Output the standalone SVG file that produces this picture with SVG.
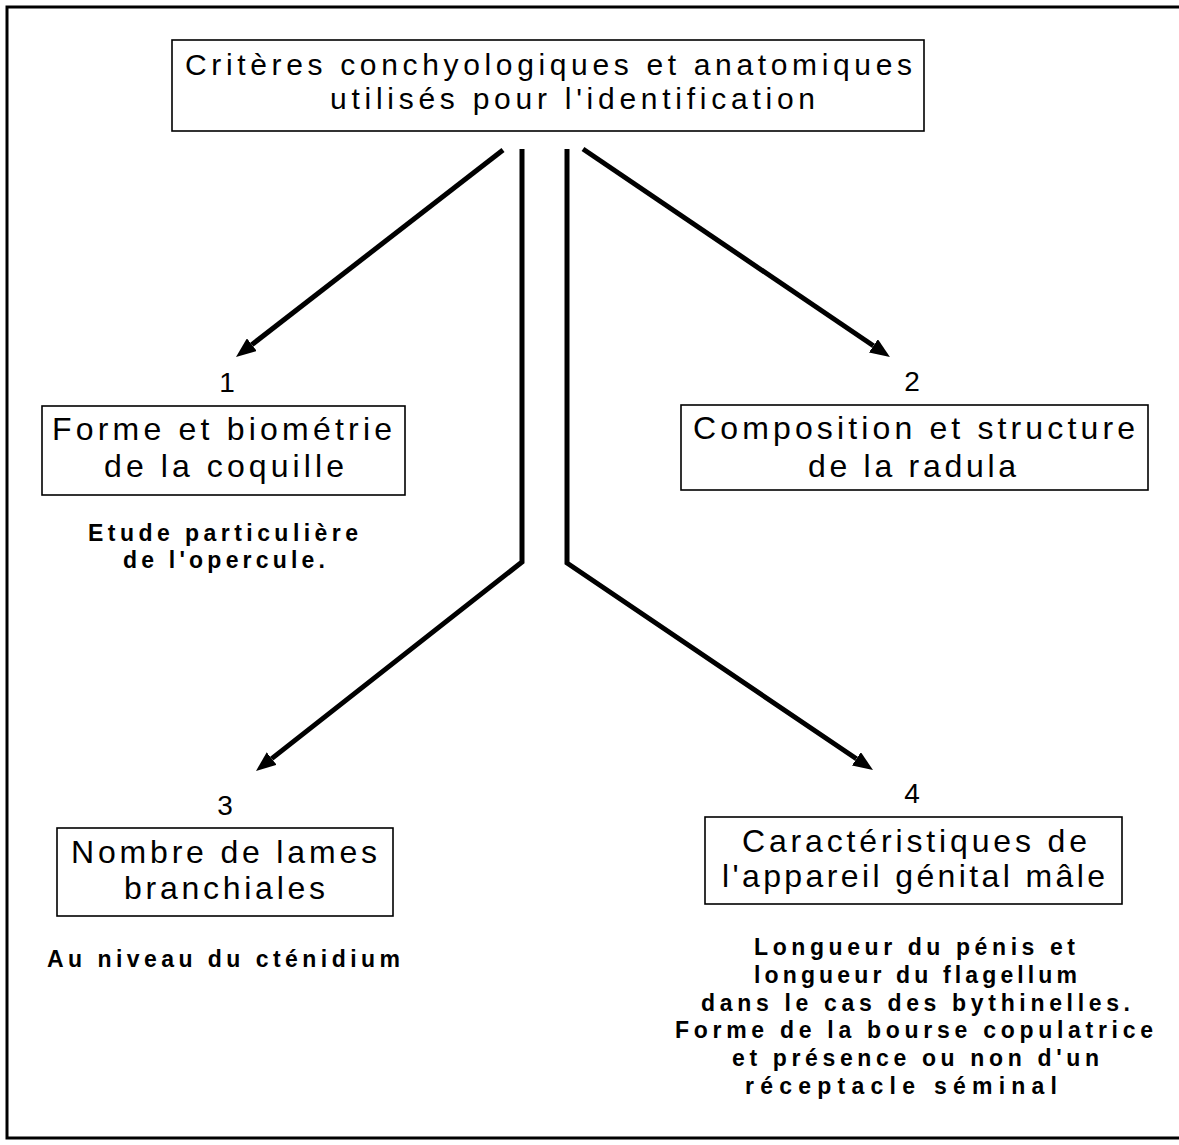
<svg xmlns="http://www.w3.org/2000/svg" width="1179" height="1145" viewBox="0 0 1179 1145">
<style>
.box{fill:#fff;stroke:#000;stroke-width:1.6}
.lbl{font-family:"Liberation Sans",Arial,sans-serif;font-size:32px;fill:#000}
.top{font-family:"Liberation Sans",Arial,sans-serif;font-size:30px;fill:#000}
.num{font-family:"Liberation Sans",Arial,sans-serif;font-size:28px;fill:#000;text-anchor:middle}
.desc{font-family:"Liberation Sans",Arial,sans-serif;font-size:23px;font-weight:bold;fill:#000}
.con{fill:none;stroke:#000;stroke-width:5;stroke-linejoin:miter}
</style>
<defs>
<marker id="ah" markerUnits="userSpaceOnUse" viewBox="0 0 20 16" markerWidth="20" markerHeight="16" refX="0" refY="8" orient="auto">
<path d="M0,0 L20,8 L0,16 z" fill="#000"/>
</marker>
</defs>
<rect width="1179" height="1145" fill="#fff"/>
<path d="M1179 7 H7 V1138 H1179" fill="none" stroke="#000" stroke-width="3"/>

<g id="connectors">
<line class="con" x1="503" y1="150" x2="251.8" y2="344.7" marker-end="url(#ah)"/>
<line class="con" x1="583" y1="149" x2="873.4" y2="345.8" marker-end="url(#ah)"/>
<path class="con" d="M522 149 V562 L271.7 758.6" marker-end="url(#ah)"/>
<path class="con" d="M567 149 V563 L856.4 758.8" marker-end="url(#ah)"/>
</g>

<g id="root">
<rect class="box" x="172" y="40" width="752" height="91"/>
<text class="top" x="185" y="75" textLength="727" lengthAdjust="spacing">Critères conchyologiques et anatomiques</text>
<text class="top" x="330" y="109" textLength="485" lengthAdjust="spacing">utilisés pour l'identification</text>
</g>

<g id="node1">
<text class="num" x="227" y="392">1</text>
<rect class="box" x="42" y="406" width="363" height="89"/>
<text class="lbl" x="52" y="440" textLength="340" lengthAdjust="spacing">Forme et biométrie</text>
<text class="lbl" x="104" y="477" textLength="240" lengthAdjust="spacing">de la coquille</text>
<text class="desc" x="88" y="541" textLength="270" lengthAdjust="spacing">Etude particulière</text>
<text class="desc" x="123" y="568" textLength="202" lengthAdjust="spacing">de l'opercule.</text>
</g>

<g id="node2">
<text class="num" x="912" y="391">2</text>
<rect class="box" x="681" y="405" width="467" height="85"/>
<text class="lbl" x="693" y="439" textLength="442" lengthAdjust="spacing">Composition et structure</text>
<text class="lbl" x="808" y="477" textLength="208" lengthAdjust="spacing">de la radula</text>
</g>

<g id="node3">
<text class="num" x="225" y="815">3</text>
<rect class="box" x="57" y="828" width="336" height="88"/>
<text class="lbl" x="71" y="863" textLength="306" lengthAdjust="spacing">Nombre de lames</text>
<text class="lbl" x="124" y="899" textLength="201" lengthAdjust="spacing">branchiales</text>
<text class="desc" x="47" y="967" textLength="353" lengthAdjust="spacing">Au niveau du cténidium</text>
</g>

<g id="node4">
<text class="num" x="912" y="803">4</text>
<rect class="box" x="705" y="817" width="417" height="87"/>
<text class="lbl" x="742" y="852" textLength="345" lengthAdjust="spacing">Caractéristiques de</text>
<text class="lbl" x="722" y="887" textLength="383" lengthAdjust="spacing">l'appareil génital mâle</text>
<text class="desc" x="754" y="955" textLength="321" lengthAdjust="spacing">Longueur du pénis et</text>
<text class="desc" x="754" y="983" textLength="323" lengthAdjust="spacing">longueur du flagellum</text>
<text class="desc" x="701" y="1011" textLength="429" lengthAdjust="spacing">dans le cas des bythinelles.</text>
<text class="desc" x="675" y="1038" textLength="478" lengthAdjust="spacing">Forme de la bourse copulatrice</text>
<text class="desc" x="732" y="1066" textLength="367" lengthAdjust="spacing">et présence ou non d'un</text>
<text class="desc" x="745" y="1094" textLength="312" lengthAdjust="spacing">réceptacle séminal</text>
</g>
</svg>
